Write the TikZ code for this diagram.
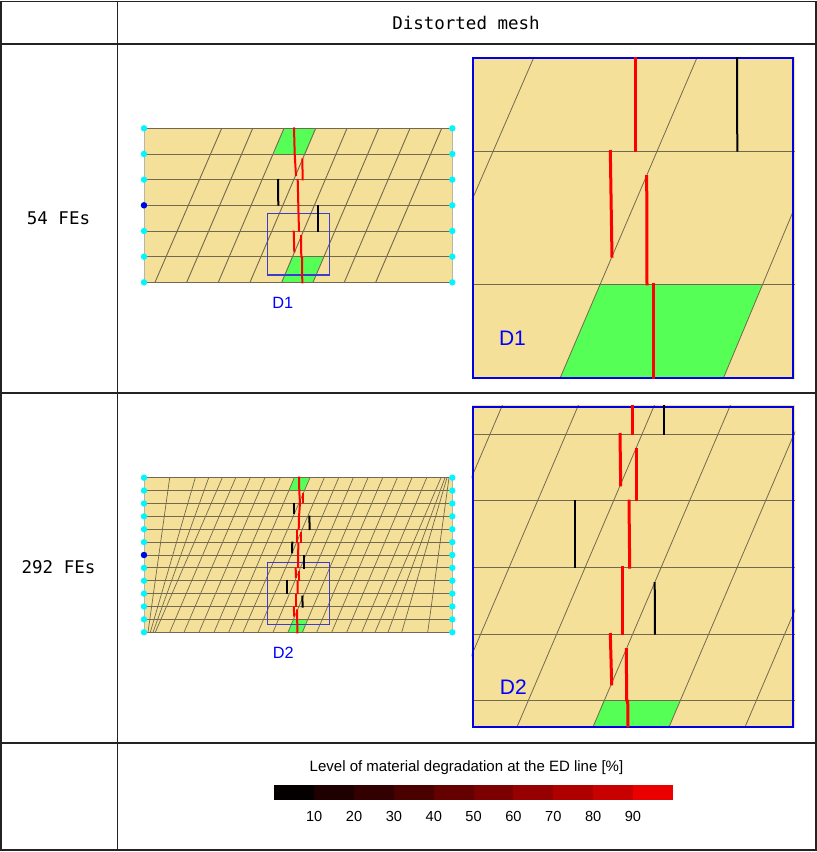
\documentclass[tikz,border=0pt]{standalone}
\usepackage{fontspec}
\usepackage{xcolor}
\setmainfont{Liberation Sans}
\setmonofont{DejaVu Sans Mono}
\usetikzlibrary{positioning}
\definecolor{meshtan}{RGB}{244,224,152}
\definecolor{meshgreen}{RGB}{85,255,85}
\definecolor{meshgrey}{RGB}{115,105,80}
\definecolor{dotcyan}{RGB}{0,245,255}
\definecolor{boxblue}{RGB}{60,60,205}
\definecolor{gridblack}{RGB}{35,35,35}
\definecolor{degA}{RGB}{5,0,0}
\definecolor{degB}{RGB}{30,0,0}
\definecolor{degC}{RGB}{50,0,0}
\definecolor{degD}{RGB}{75,0,0}
\definecolor{degE}{RGB}{100,0,0}
\definecolor{degF}{RGB}{125,0,0}
\definecolor{degG}{RGB}{150,0,0}
\definecolor{degH}{RGB}{175,0,0}
\definecolor{degI}{RGB}{200,0,0}
\definecolor{degJ}{RGB}{235,0,0}
\tikzset{
    gridline/.style={draw=gridblack, line width=1.2pt},
    monolabel/.style={font=\ttfamily\fontsize{17.5}{20}\selectfont, inner sep=0pt},
    meshline/.style={draw=meshgrey, line width=0.9pt},
    zoomline/.style={draw=meshgrey, line width=0.8pt},
    redthin/.style={draw=red, line width=2pt},
    blackthin/.style={draw=black, line width=2pt},
    redthick/.style={draw=red, line width=3pt},
    blackthick/.style={draw=black, line width=2pt},
    detailbox/.style={draw=boxblue, line width=1.1pt},
    zoomframe/.style={draw=blue!90!black, line width=2.2pt},
    smalltag/.style={text=blue, font=\fontsize{16.3}{18}\selectfont, inner sep=0pt},
    bigtag/.style={text=blue, font=\fontsize{21}{24}\selectfont, inner sep=0pt},
    barcell/.style={minimum width=39.84pt, minimum height=15.3pt, inner sep=0pt, outer sep=0pt},
    ticklabel/.style={font=\fontsize{14.6}{16}\selectfont, inner sep=0pt},
}
\begin{document}
\begin{tikzpicture}[x=1pt, y=-1pt]
    \useasboundingbox (0,0) rectangle (817,852);

    \draw[gridline] (1,1.5) rectangle (816,850);
    \draw[gridline] (117.5,1.5) -- (117.5,850);
    \foreach \yrow in {44,393,743}
        \draw[gridline] (1,\yrow) -- (816,\yrow);

    \node[monolabel] (heading) at (466,23) {Distorted mesh};
    \node[monolabel] (coarse) at (58.5,218) {54 FEs};
    \node[monolabel] (fine) at (58.5,567.5) {292 FEs};

    \fill[meshtan] (144,128.3) rectangle (452.3,282.3);
    \fill[meshgreen] (284,128.3) -- (315.7,128.3) -- (305.3,154) -- (273.7,154) -- cycle;
    \fill[meshgreen] (292,256.7) -- (323.3,256.7) -- (313,282.3) -- (281.7,282.3) -- cycle;
    \foreach \i in {0,...,6}
        \draw[meshline] (144,128.3+25.67*\i) -- (452.3,128.3+25.67*\i);
    \draw[meshline, draw=meshgrey!50] (144,128.3) -- (144,282.3) (452.3,128.3) -- (452.3,282.3);
    \foreach \xt/\xb in {221.7/155,252.7/186.7,284/218.3,315.7/250,347/281.7,378.7/313,410/344.3,441.7/375.7}
        \draw[meshline] (\xt,128.3) -- (\xb,282.3);
    \draw[detailbox] (267.3,213.3) rectangle (329.3,275);
    \draw[redthin] (294,127.3) -- (294.7,154.3) -- (296,176);
    \draw[redthin] (302.3,158.3) -- (302.7,180.3);
    \draw[redthin] (297.7,179) -- (298.3,205) -- (299,231.7);
    \draw[redthin] (293.7,230.7) -- (294.3,252.3);
    \draw[redthin] (301,235) -- (301.3,257.7);
    \draw[redthin] (302,256.7) -- (302.3,283.3);
    \draw[blackthin] (278,179) -- (278.3,205.7);
    \draw[blackthin] (318.3,205) -- (318.3,231.7);
    \foreach \i in {0,...,6}{
        \fill[dotcyan] (452.3,128.3+25.67*\i) circle (3.2pt);
        \fill[dotcyan] (144,128.3+25.67*\i) circle (3.2pt);
    }
    \fill[blue!90!black] (144,205.3) circle (3.2pt);
    \node[smalltag] (tagA) at (282.7,302.5) {D1};

    \fill[meshtan] (472,57) rectangle (794.5,379);
    \fill[meshgreen] (600,284.3) -- (762.7,284.3) -- (723.3,378.3) -- (560,378.3) -- cycle;
    \begin{scope}
        \clip (471.5,56.5) rectangle (795,379.5);
        \draw[zoomline] (471.5,151) -- (795,151);
        \draw[zoomline] (471.5,284.3) -- (795,284.3);
        \draw[zoomline] (534,57) -- (472,200);
        \draw[zoomline] (697.3,57) -- (560,378.3);
        \draw[zoomline] (793,211.7) -- (723.3,378.3);
    \end{scope}
    \draw[zoomframe] (473,58) rectangle (793.3,378.3);
    \draw[redthick] (635,57) -- (635,151.7);
    \draw[redthick] (610.3,150) -- (612,257.7);
    \draw[redthick] (646.7,175) -- (647,285.3);
    \draw[redthick] (653.3,283.3) -- (653.3,379.3);
    \draw[blackthick] (737,57) -- (737.3,151.7);
    \node[bigtag] (zoomtagA) at (512.5,338) {D1};

    \fill[meshtan] (144,477.7) rectangle (452.3,632.3);
    \fill[meshgreen] (294.3,477.7) -- (310,477.7) -- (304.5,490.5) -- (288.8,490.5) -- cycle;
    \fill[meshgreen] (293.3,619.4) -- (307.7,619.4) -- (303.3,632.3) -- (287.7,632.3) -- cycle;
    \foreach \i in {0,...,12}
        \draw[meshline] (144,477.7+12.88*\i) -- (452.3,477.7+12.88*\i);
    \draw[meshline, draw=meshgrey!50] (144,477.7) -- (144,632.3) (452.3,477.7) -- (452.3,632.3);
    \foreach \xt/\xb in {169.7/148,195.3/150.3,208.7/153,222.3/155.3,235.7/169.7,250.3/184,265/199,280.3/214,294.3/228.7,310/243,324.3/258,338.7/273,353.3/288,368/302.3,382.7/316.7,397.3/331.7,412/346.7,426.7/361.7,441/375,445/388,447/401.7,449/427.7}
        \draw[meshline, line width=0.7pt] (\xt,477.7) -- (\xb,632.3);
    \draw[detailbox] (267.3,562.7) rectangle (329.3,624.3);
    \draw[redthin] (299,476.7) -- (299.3,491.7) -- (300,503.3) -- (299,516.7) -- (298.7,530);
    \draw[redthin] (302.7,493.3) -- (302.7,503.3);
    \draw[redthin] (297.3,530) -- (297.3,542.7);
    \draw[redthin] (301,531.7) -- (301,542.7);
    \draw[redthin] (298.3,542.7) -- (298.1,568);
    \draw[redthin] (295.7,567.7) -- (295.9,578);
    \draw[redthin] (298.8,570.6) -- (298.8,581);
    \draw[redthin] (297.5,580.6) -- (297.6,594);
    \draw[redthin] (296.3,593.5) -- (296.3,606.7);
    \draw[redthin] (293.9,606.4) -- (294.1,616.5);
    \draw[redthin] (297,609.3) -- (297.1,619.6);
    \draw[redthin] (297.2,619.3) -- (297.4,633.3);
    \draw[blackthin] (293.7,502.7) -- (293.7,514.3);
    \draw[blackthin] (309.3,515.7) -- (309.7,530);
    \draw[blackthin] (292.3,541.7) -- (292,553.3);
    \draw[blackthin] (304.3,555) -- (304.3,568.7);
    \draw[blackthin] (287,579.7) -- (287,594);
    \draw[blackthin] (302.3,595.7) -- (302.7,607.7);
    \foreach \i in {0,...,12}{
        \fill[dotcyan] (452.3,477.7+12.88*\i) circle (3.2pt);
        \fill[dotcyan] (144,477.7+12.88*\i) circle (3.2pt);
    }
    \fill[blue!90!black] (144,555) circle (3.2pt);
    \node[smalltag] (tagB) at (283.3,652.5) {D2};

    \fill[meshtan] (472,405) rectangle (794.5,728);
    \fill[meshgreen] (603.3,700.7) -- (680,700.7) -- (669.3,727) -- (593.3,727) -- cycle;
    \begin{scope}
        \clip (471.5,405) rectangle (795,728);
        \foreach \yrow in {434,500.7,567.3,634,700.7}
            \draw[zoomline] (471.5,\yrow) -- (795,\yrow);
        \foreach \xb in {365.3,441.3,517.3,593.3,669.3,745.3}
            \draw[zoomline] (\xb,726.3) -- (\xb+137.3,404.7);
    \end{scope}
    \draw[zoomframe] (472.7,407) rectangle (793.3,727.3);
    \draw[redthick] (632.3,404.7) -- (632.3,435);
    \draw[redthick] (620,433) -- (620.7,486.3);
    \draw[redthick] (636,448) -- (636,501.3);
    \draw[redthick] (629,499.7) -- (629.7,568.7);
    \draw[redthick] (622.7,566.3) -- (622.7,634.7);
    \draw[redthick] (610.3,633) -- (611.7,685.3);
    \draw[redthick] (626.3,648) -- (626.7,701.3);
    \draw[redthick] (627.7,699.7) -- (628,727.3);
    \draw[blackthick] (664.3,404.7) -- (664.3,434.7);
    \draw[blackthick] (575.3,500) -- (575.3,568);
    \draw[blackthick] (654.7,582) -- (655,634.7);
    \node[bigtag] (zoomtagB) at (513.3,687.5) {D2};

    \node[barcell, fill=degA, anchor=north west] (bar10) at (274.4,784.7) {};
    \node[barcell, fill=degB, right=0pt of bar10] (bar20) {};
    \node[barcell, fill=degC, right=0pt of bar20] (bar30) {};
    \node[barcell, fill=degD, right=0pt of bar30] (bar40) {};
    \node[barcell, fill=degE, right=0pt of bar40] (bar50) {};
    \node[barcell, fill=degF, right=0pt of bar50] (bar60) {};
    \node[barcell, fill=degG, right=0pt of bar60] (bar70) {};
    \node[barcell, fill=degH, right=0pt of bar70] (bar80) {};
    \node[barcell, fill=degI, right=0pt of bar80] (bar90) {};
    \node[barcell, fill=degJ, right=0pt of bar90] (bar100) {};

    \node[ticklabel, below=11.5pt of bar10.south east] (tick10) {10};
    \node[ticklabel, below=11.5pt of bar20.south east] (tick20) {20};
    \node[ticklabel, below=11.5pt of bar30.south east] (tick30) {30};
    \node[ticklabel, below=11.5pt of bar40.south east] (tick40) {40};
    \node[ticklabel, below=11.5pt of bar50.south east] (tick50) {50};
    \node[ticklabel, below=11.5pt of bar60.south east] (tick60) {60};
    \node[ticklabel, below=11.5pt of bar70.south east] (tick70) {70};
    \node[ticklabel, below=11.5pt of bar80.south east] (tick80) {80};
    \node[ticklabel, below=11.5pt of bar90.south east] (tick90) {90};

    \node[font=\fontsize{15}{17}\selectfont, inner sep=0pt] (legendtitle) at (466.5,767.5) {Level of material degradation at the ED line [\%]};
\end{tikzpicture}
\end{document}
